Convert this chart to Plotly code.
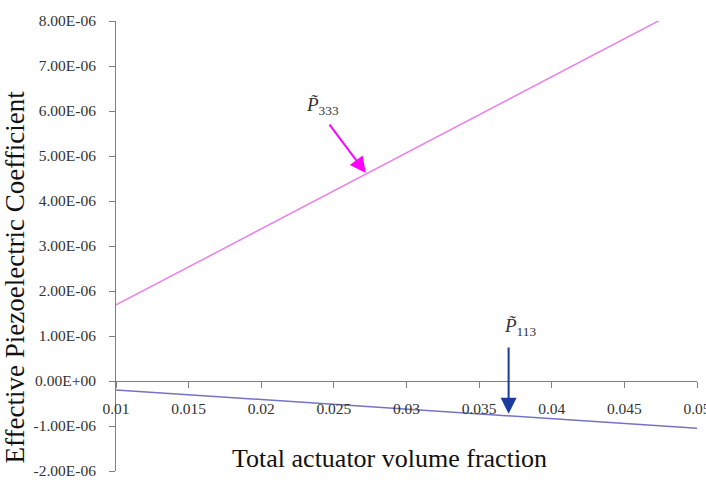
import plotly.graph_objects as go

# Data
volume_fraction = [0.01, 0.05]
p333 = [1.69e-6, 8.45e-6]
p113 = [-0.20e-6, -1.05e-6]

x_tickvals = [0.01, 0.015, 0.02, 0.025, 0.03, 0.035, 0.04, 0.045, 0.05]
x_ticktext = ["0.01", "0.015", "0.02", "0.025", "0.03", "0.035", "0.04", "0.045", "0.05"]
y_tickvals = [-2e-6, -1e-6, 0, 1e-6, 2e-6, 3e-6, 4e-6, 5e-6, 6e-6, 7e-6, 8e-6]
y_ticktext = ["-2.00E-06", "-1.00E-06", "0.00E+00", "1.00E-06", "2.00E-06", "3.00E-06",
              "4.00E-06", "5.00E-06", "6.00E-06", "7.00E-06", "8.00E-06"]

FONT = "Liberation Serif"

fig = go.Figure()
fig.add_trace(go.Scatter(x=volume_fraction, y=p333, mode="lines",
                         line=dict(color="#EA80EA", width=1.5), cliponaxis=True,
                         showlegend=False))
fig.add_trace(go.Scatter(x=volume_fraction, y=p113, mode="lines",
                         line=dict(color="#7474C4", width=1.5), cliponaxis=True,
                         showlegend=False))

ymin, ymax = -2e-6, 8e-6
fig.update_layout(
    width=706, height=480,
    margin=dict(l=116, r=9, t=21, b=9),
    paper_bgcolor="white", plot_bgcolor="white",
    font=dict(family=FONT, color="#222"),
    xaxis=dict(range=[0.01, 0.05], tickvals=x_tickvals, ticktext=x_ticktext,
               showgrid=False, zeroline=False, showline=True, linecolor="#808080",
               linewidth=1, ticks="outside", ticklen=6, tickcolor="#808080",
               anchor="free", position=(0 - ymin) / (ymax - ymin),
               tickfont=dict(size=15.5, family=FONT, color="#333"),
               ticklabelstandoff=7, ticklabeloverflow="allow", automargin=False),
    yaxis=dict(range=[ymin, ymax], tickvals=y_tickvals, ticktext=y_ticktext,
               showgrid=False, zeroline=False, showline=True, linecolor="#808080",
               linewidth=1, ticks="outside", ticklen=6, tickcolor="#808080",
               tickfont=dict(size=15.5, family=FONT, color="#333"),
               ticklabelstandoff=10, automargin=False),
)

# Axis titles
fig.add_annotation(text="Effective Piezoelectric Coefficient", xref="paper", yref="paper",
                   x=0, y=0.43, xshift=-102, xanchor="center", yanchor="middle",
                   textangle=-90, showarrow=False,
                   font=dict(size=27, family=FONT, color="#111"))
fig.add_annotation(text="Total actuator volume fraction", xref="paper", yref="paper",
                   x=0.47, y=0, yshift=13, xanchor="center", yanchor="middle",
                   showarrow=False,
                   font=dict(size=26, family=FONT, color="#111"))

# Arrows
fig.add_annotation(x=0.0272, y=4.62e-6, ax=0.02462, ay=5.73e-6, axref="x", ayref="y",
                   text="", showarrow=True, arrowhead=2, arrowsize=1.6, arrowwidth=2,
                   arrowcolor="#FF00FF")
fig.add_annotation(x=0.03703, y=-0.73e-6, ax=0.03703, ay=0.78e-6, axref="x", ayref="y",
                   text="", showarrow=True, arrowhead=2, arrowsize=1.6, arrowwidth=2,
                   arrowcolor="#1A3A9E")

# Labels
fig.add_annotation(x=0.0242, y=6.12e-6, text="<i>P̃</i><sub>333</sub>", showarrow=False,
                   font=dict(size=19, family=FONT, color="#333"))
fig.add_annotation(x=0.0378, y=1.2e-6, text="<i>P̃</i><sub>113</sub>", showarrow=False,
                   font=dict(size=19, family=FONT, color="#333"))

fig.write_html("out.html")
